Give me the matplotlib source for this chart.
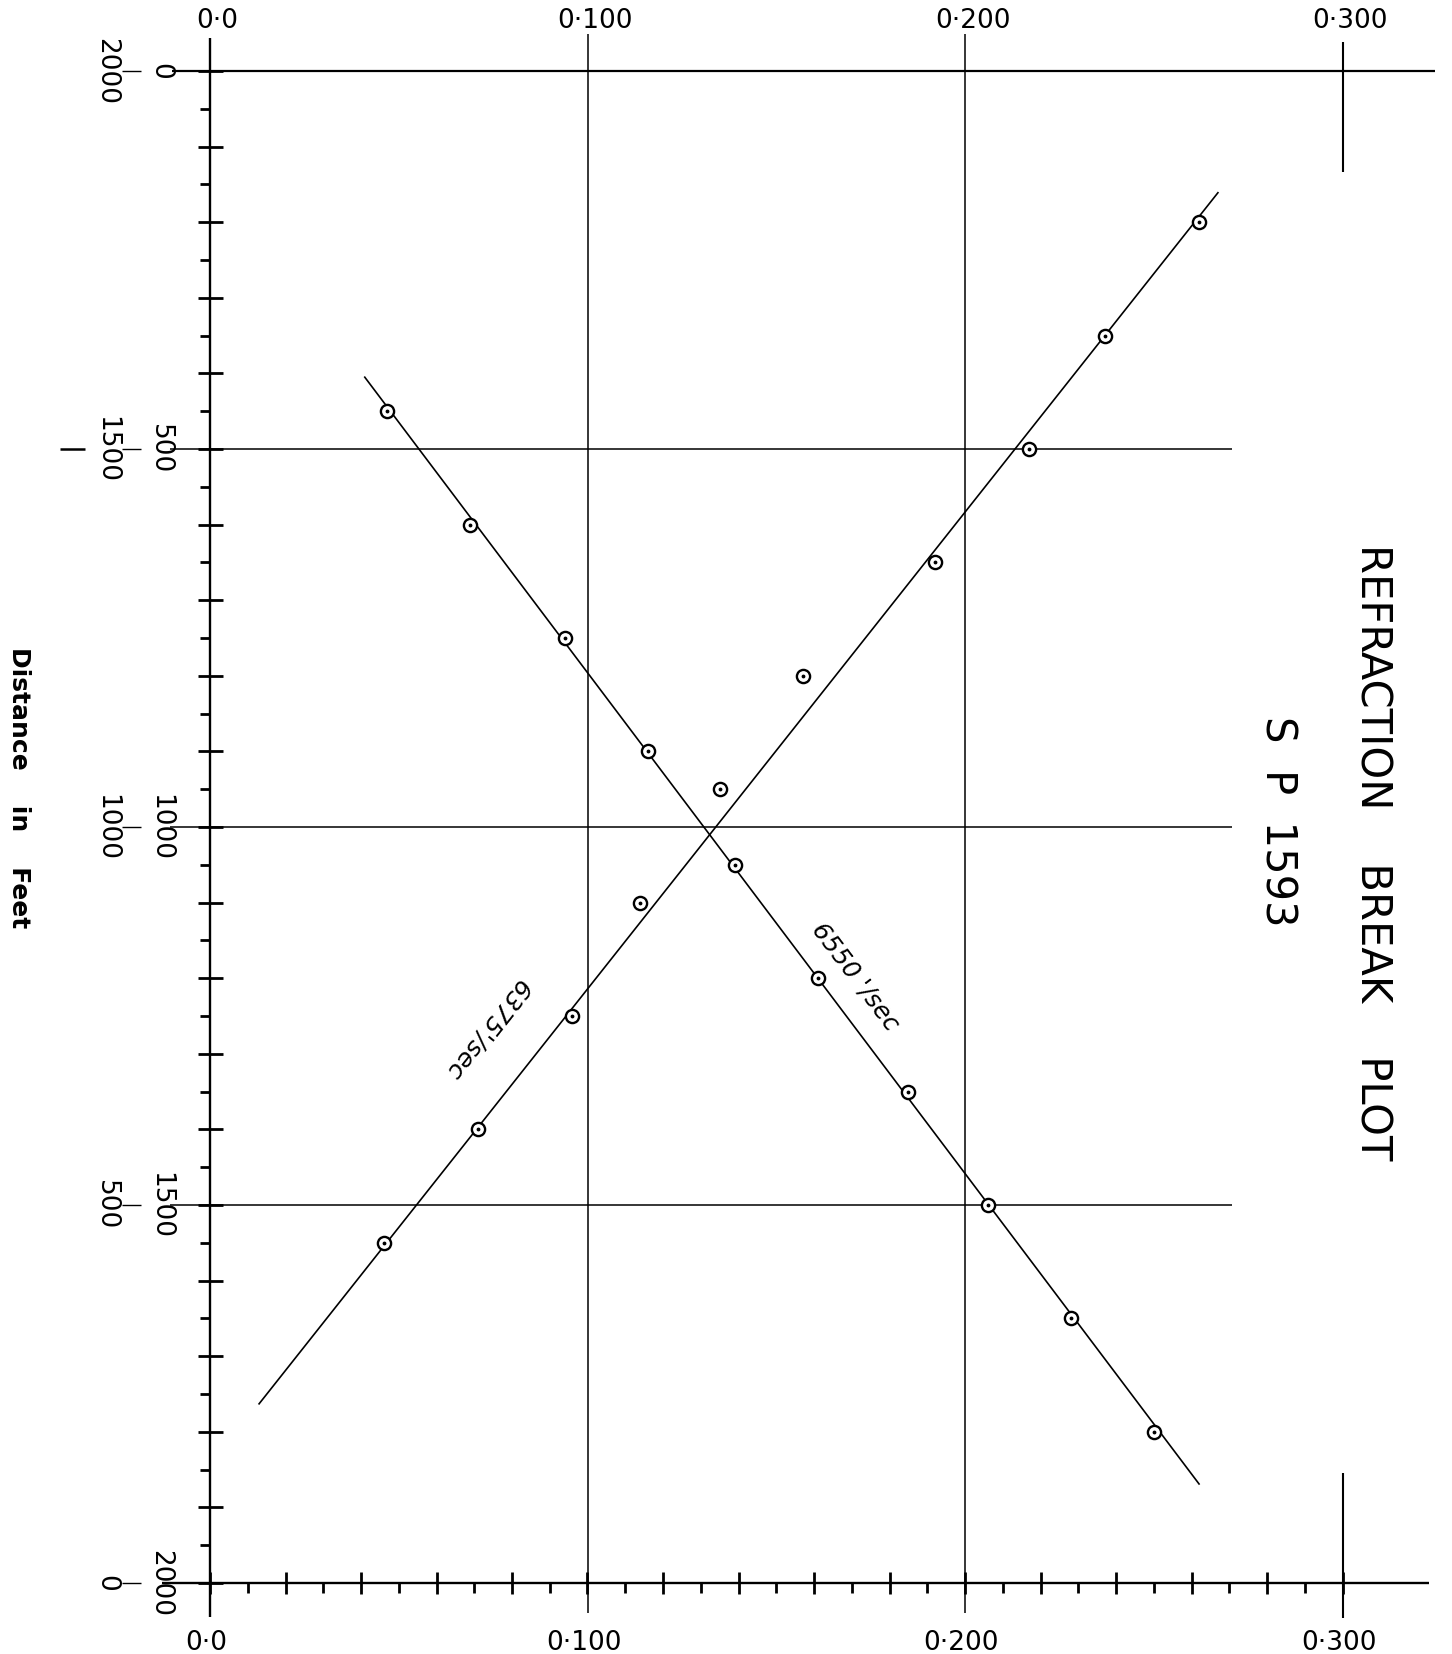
import matplotlib.pyplot as plt
from matplotlib.ticker import MultipleLocator

# Refraction break plot, shot point 1593
# first-break picks: distance (ft, 0 at top) and travel time (s)
dist_a = [200, 350, 500, 650, 800, 950, 1100, 1250, 1400, 1550]
time_a = [0.262, 0.237, 0.217, 0.192, 0.157, 0.135, 0.114, 0.096, 0.071, 0.046]
dist_b = [450, 600, 750, 900, 1050, 1200, 1350, 1500, 1650, 1800]
time_b = [0.047, 0.069, 0.094, 0.116, 0.139, 0.161, 0.185, 0.206, 0.228, 0.250]

# hand-drawn velocity lines (end points)
fit_a_dist = [1763, 161]
fit_a_time = [0.013, 0.267]
fit_b_dist = [405, 1869]
fit_b_time = [0.041, 0.262]
vel_labels = ["6375'/sec", "6550 '/sec"]

time_ticks = [0.0, 0.1, 0.2, 0.3]
time_labels = ['0·0', '0·100', '0·200', '0·300']
dist_lines = [0, 500, 1000, 1500, 2000]
dist_labels_down = ['0', '500', '1000', '1500', '2000']
dist_labels_up = ['2000', '1500', '1000', '500', '0']

W, H = 1452, 1654
fig = plt.figure(figsize=(W / 100, H / 100), dpi=100)
ax = fig.add_axes([210 / W, 1 - 1583 / H, 1132.5 / W, 1512 / H])
ax.set_xlim(0, 0.3)
ax.set_ylim(2000, 0)
for s in ax.spines.values():
    s.set_visible(False)

# ticks on the time (bottom) and distance (left) axes
ax.xaxis.set_major_locator(MultipleLocator(0.02))
ax.xaxis.set_minor_locator(MultipleLocator(0.01))
ax.yaxis.set_major_locator(MultipleLocator(100))
ax.yaxis.set_minor_locator(MultipleLocator(50))
ax.tick_params(axis='x', which='major', direction='inout', length=16, width=2,
               labelbottom=False, top=False)
ax.tick_params(axis='x', which='minor', direction='out', length=7, width=2, top=False)
ax.tick_params(axis='y', which='major', direction='inout', length=18, width=2,
               labelleft=False, right=False)
ax.tick_params(axis='y', which='minor', direction='out', length=7, width=2, right=False)

kw = dict(color='black', clip_on=False, solid_capstyle='butt')
# frame lines
ax.plot([0, 0], [-44, 2045], lw=1.7, **kw)
ax.plot([-0.010, 0.3245], [0, 0], lw=1.6, **kw)
ax.plot([-0.0127, 0.323], [2000, 2000], lw=1.7, **kw)
for d in dist_lines[1:-1]:
    ax.plot([-0.0106, 0.2707], [d, d], lw=1.1, **kw)
for t in time_ticks[1:3]:
    ax.plot([t, t], [-49, 2040], lw=1.1, **kw)
ax.plot([0.3, 0.3], [-38, 134], lw=1.5, **kw)
ax.plot([0.3, 0.3], [1855, 2046], lw=1.5, **kw)

# tick labels
for t, lab in zip(time_ticks, time_labels):
    ax.text(t + 0.002, -66, lab, ha='center', va='center', fontsize=19, clip_on=False)
    ax.text(t - 0.001, 2079, lab, ha='center', va='center', fontsize=19, clip_on=False)
for d, lab_up, lab_down in zip(dist_lines, dist_labels_up, dist_labels_down):
    ax.text(-0.0275, d, lab_up, rotation=-90, ha='center', va='center', fontsize=19,
            clip_on=False)
    ax.text(-0.0133, d, lab_down, rotation=-90, ha='center', va='center', fontsize=19,
            clip_on=False)
    ax.plot([-0.0232, -0.0182], [d, d], lw=1.0, **kw)
ax.plot([-0.0397, -0.0332], [500, 500], lw=1.8, **kw)

ax.text(-0.0506, 948, 'Distance    in    Feet', rotation=-90, ha='center', va='center',
        fontsize=18, fontweight='bold', clip_on=False)

# title
ax.text(0.308, 1033, 'REFRACTION    BREAK    PLOT', rotation=-90, ha='center',
        va='center', fontsize=30, clip_on=False)
ax.text(0.2829, 992, 'S  P  1593', rotation=-90, ha='center', va='center',
        fontsize=30, clip_on=False)

# velocity lines and picks
ax.plot(fit_a_time, fit_a_dist, color='black', lw=1.2)
ax.plot(fit_b_time, fit_b_dist, color='black', lw=1.2)
for tt, dd in [(time_a, dist_a), (time_b, dist_b)]:
    ax.plot(tt, dd, 'o', mfc='white', mec='black', ms=9.5, mew=1.7)
    ax.plot(tt, dd, '.', color='black', ms=3.5)

ax.text(0.0731, 1268, vel_labels[0], rotation=231.6, rotation_mode='anchor',
        ha='center', va='center', fontsize=18, style='italic')
ax.text(0.1709, 1198, vel_labels[1], rotation=-53, rotation_mode='anchor',
        ha='center', va='center', fontsize=18, style='italic')

fig.savefig('out.png', dpi=100)
